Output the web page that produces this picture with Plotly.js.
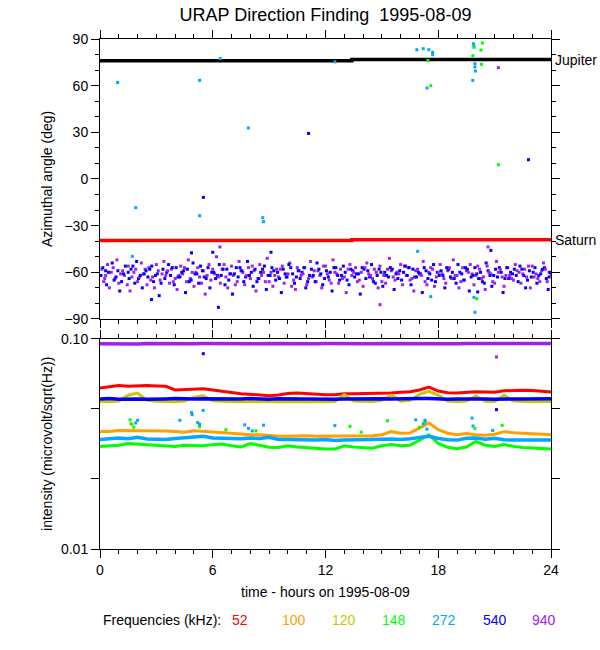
<!DOCTYPE html>
<html><head><meta charset="utf-8">
<script src="https://cdn.plot.ly/plotly-3.0.1.min.js"></script>
<style>html,body{margin:0;padding:0;background:#fff}#plot{width:600px;height:650px}</style>
</head><body><div id="plot"></div>
<script>
// ---------- data ----------
const freqLabels = ["52","100","120","148","272","540","940"];
const freqColors = ["#ff0000","#ffa000","#c8c800","#00ff00","#00a8ff","#0000ff","#a020f0"];

// reference source directions (deg)
const jupiterT = [0, 13.4, 13.4, 24];
const jupiterA = [76.0, 76.0, 76.8, 76.8];
const saturnT = [0, 13.4, 13.4, 24];
const saturnA = [-39.6, -39.6, -39.0, -39.0];

// azimuthal angle points, 940 kHz
const t940 = [0.1,0.2,0.3,0.4,0.5,0.6,0.8,0.9,1.0,1.2,1.3,1.5,1.6,1.7,1.9,2.0,2.2,2.3,2.5,2.6,2.8,2.9,3.1,3.2,3.4,3.5,3.7,3.8,4.0,4.1,4.3,4.4,4.6,4.7,4.9,5.0,5.2,5.3,5.5,5.6,5.8,5.9,6.1,6.2,6.4,6.5,6.7,6.8,7.0,7.1,7.3,7.4,7.6,7.7,7.9,8.0,8.2,8.3,8.5,8.6,8.8,8.9,9.1,9.2,9.4,9.5,9.7,9.8,10.0,10.1,10.3,10.4,10.6,10.7,10.9,11.0,11.2,11.3,11.5,11.6,11.8,11.9,12.1,12.2,12.4,12.5,12.7,12.8,13.0,13.1,13.3,13.4,13.6,13.7,13.9,14.0,14.2,14.3,14.5,14.6,14.8,14.9,15.1,15.2,15.4,15.5,15.7,15.8,16.0,16.1,16.3,16.4,16.6,16.7,16.9,17.0,17.2,17.3,17.5,17.6,17.8,17.9,18.1,18.2,18.4,18.5,18.7,18.8,19.0,19.1,19.3,19.4,19.6,19.7,19.9,20.0,20.2,20.3,20.5,20.6,20.8,20.9,21.1,21.2,21.4,21.5,21.7,21.8,22.0,22.1,22.3,22.4,22.6,22.7,22.9,23.0,23.2,23.3,23.5,23.6,23.8,23.9,6.38,20.65,14.9,21.2];
const a940 = [-58,-66,-62,-55,-70,-60,-64,-52,-67,-59,-62,-56,-72,-63,-58,-66,-54,-61,-68,-57,-63,-70,-59,-65,-53,-62,-67,-58,-64,-71,-56,-61,-66,-52,-60,-69,-57,-63,-59,-74,-55,-65,-61,-50,-67,-58,-63,-70,-56,-62,-66,-53,-60,-68,-57,-64,-59,-72,-55,-62,-66,-51,-60,-69,-58,-63,-56,-67,-61,-54,-65,-71,-59,-62,-57,-68,-53,-63,-66,-59,-70,-56,-61,-65,-52,-60,-67,-58,-63,-73,-55,-62,-57,-66,-60,-69,-54,-61,-64,-58,-70,-56,-62,-67,-51,-59,-65,-60,-55,-68,-62,-57,-64,-72,-58,-61,-53,-66,-60,-57,-69,-63,-55,-61,-67,-59,-64,-52,-62,-70,-57,-65,-60,-55,-68,-62,-58,-64,-71,-56,-61,-66,-53,-60,-63,-69,-57,-62,-65,-55,-60,-67,-58,-63,-70,-56,-61,-64,-59,-54,-66,-60,-43.7,-43.7,-80.8,71.6];
const t940b = [0.25,0.7,1.1,1.45,1.8,2.1,2.4,2.7,3.0,3.3,3.6,3.9,4.2,4.5,4.8,5.1,5.4,5.7,6.0,6.3,6.6,6.9,7.2,7.5,7.8,8.1,8.4,8.7,9.0,9.3,9.6,9.9,10.2,10.5,10.8,11.1,11.4,11.7,12.0,12.3,12.6,12.9,13.2,13.5,13.8,14.1,14.4,14.7,15.0,15.3,15.6,15.9,16.2,16.5,16.8,17.1,17.4,17.7,18.0,18.3,18.6,18.9,19.2,19.5,19.8,20.1,20.4,20.7,21.0,21.3,21.6,21.9,22.2,22.5,22.8,23.1,23.4,23.7,24.0];
const a940b = [-64,-57,-61,-68,-60,-63,-58,-65,-55,-61,-59,-66,-62,-57,-64,-60,-67,-62,-58,-63,-55,-61,-68,-59,-62,-56,-64,-60,-66,-62,-58,-63,-69,-57,-61,-64,-59,-62,-56,-67,-61,-64,-58,-60,-65,-57,-62,-60,-66,-58,-63,-61,-56,-65,-59,-62,-68,-58,-60,-64,-57,-62,-66,-59,-61,-56,-63,-60,-67,-58,-62,-64,-59,-61,-56,-63,-66,-58,-62];

// azimuthal angle points, 540 kHz
const t540 = [0.05,0.15,0.35,0.45,0.65,0.75,0.95,1.05,1.25,1.35,1.55,1.65,1.85,1.95,2.15,2.25,2.45,2.55,2.75,2.85,3.05,3.15,3.35,3.45,3.65,3.75,3.95,4.05,4.25,4.35,4.55,4.65,4.85,4.95,5.15,5.25,5.45,5.55,5.75,5.85,6.05,6.15,6.35,6.45,6.65,6.75,6.95,7.05,7.25,7.35,7.55,7.65,7.85,7.95,8.15,8.25,8.45,8.55,8.75,8.85,9.05,9.15,9.35,9.45,9.65,9.75,9.95,10.05,10.25,10.35,10.55,10.65,10.85,10.95,11.15,11.25,11.45,11.55,11.75,11.85,12.05,12.15,12.35,12.45,12.65,12.75,12.95,13.05,13.25,13.35,13.55,13.65,13.85,13.95,14.15,14.25,14.45,14.55,14.75,14.85,15.05,15.15,15.35,15.45,15.65,15.75,15.95,16.05,16.25,16.35,16.55,16.65,16.85,16.95,17.15,17.25,17.45,17.55,17.75,17.85,18.05,18.15,18.35,18.45,18.65,18.75,18.95,19.05,19.25,19.35,19.55,19.65,19.85,19.95,20.15,20.25,20.45,20.55,20.75,20.85,21.05,21.15,21.35,21.45,21.65,21.75,21.95,22.05,22.25,22.35,22.55,22.65,22.85,22.95,23.15,23.25,23.45,23.55,23.75,23.85,23.95,2.74,6.3,20.8,20.1,5.5,11.1,22.8,4.87,6.0,9.1];
const a540 = [-62,-57,-68,-60,-54,-65,-59,-72,-61,-56,-64,-58,-67,-53,-62,-70,-59,-63,-56,-66,-61,-75,-58,-64,-55,-62,-68,-57,-63,-60,-73,-58,-65,-54,-61,-67,-59,-63,-57,-70,-60,-64,-55,-62,-68,-58,-61,-74,-57,-63,-59,-66,-53,-62,-69,-58,-64,-60,-56,-71,-62,-57,-65,-60,-73,-58,-63,-55,-61,-67,-59,-64,-57,-70,-62,-58,-66,-54,-61,-68,-59,-63,-72,-57,-62,-65,-56,-60,-68,-58,-63,-61,-74,-57,-64,-59,-55,-66,-62,-58,-69,-60,-63,-57,-71,-61,-59,-65,-56,-62,-68,-58,-63,-60,-73,-57,-64,-61,-55,-66,-62,-59,-70,-57,-63,-60,-67,-55,-61,-65,-58,-72,-62,-57,-64,-60,-67,-54,-62,-69,-58,-63,-60,-73,-57,-64,-61,-58,-66,-56,-62,-70,-59,-63,-57,-67,-61,-58,-64,-71,-60,-77.5,-82.5,-45.9,-72.6,-11.8,29.3,12.4,-47.5,-47.1,-47.1];
const t540b = [0.3,0.85,1.15,1.5,1.75,2.05,2.35,2.65,2.95,3.25,3.55,3.85,4.15,4.45,4.75,5.05,5.35,5.65,5.95,6.25,6.55,6.85,7.15,7.45,7.75,8.05,8.35,8.65,8.95,9.25,9.55,9.85,10.15,10.45,10.75,11.05,11.35,11.65,11.95,12.25,12.55,12.85,13.15,13.45,13.75,14.05,14.35,14.65,14.95,15.25,15.55,15.85,16.15,16.45,16.75,17.05,17.35,17.65,17.95,18.25,18.55,18.85,19.15,19.45,19.75,20.05,20.35,20.65,20.95,21.25,21.55,21.85,22.15,22.45,22.75,23.05,23.35,23.65,23.9];
const a540b = [-59,-63,-66,-60,-56,-64,-61,-58,-62,-67,-60,-57,-63,-59,-66,-61,-56,-64,-60,-62,-58,-65,-61,-57,-63,-60,-66,-58,-62,-59,-64,-61,-57,-63,-60,-66,-62,-58,-64,-60,-57,-62,-65,-59,-61,-58,-63,-67,-60,-62,-58,-64,-60,-57,-63,-61,-59,-65,-60,-62,-58,-64,-60,-57,-63,-61,-66,-59,-62,-57,-64,-60,-62,-58,-65,-60,-62,-57,-63];

// azimuthal angle points, 272 kHz
const t272 = [0.94,5.3,6.4,7.9,12.5,16.86,17.2,17.5,17.7,17.7,17.4,19.87,19.9,19.95,19.95,19.98,19.84,1.9,5.3,8.66,8.7,19.95,19.9,17.6,1.72,16.9];
const a272 = [62.0,63.4,77.4,32.8,75.3,83.1,83.8,83.1,81.4,79.9,58.5,87.0,85.5,74.1,72.0,69.4,63.4,-18.4,-23.6,-24.9,-27.4,-85.7,-76.1,-75.6,-49.7,-46.5];

// azimuthal angle points, 148 kHz
const t148 = [17.45,17.6,20.35,19.9,20.27,19.84,20.3,21.2,20.05];
const a148 = [76.2,60.0,87.4,84.6,82.9,79.3,73.7,9.2,-76.9];

// intensity (microvolt/sqrt(Hz)) at half-hour steps
const hours = [0,0.5,1,1.5,2,2.5,3,3.5,4,4.5,5,5.5,6,6.5,7,7.5,8,8.5,9,9.5,10,10.5,11,11.5,12,12.5,13,13.5,14,14.5,15,15.5,16,16.5,17,17.5,18,18.5,19,19.5,20,20.5,21,21.5,22,22.5,23,23.5,24];
const i52 = [0.0584,0.0590,0.0600,0.0595,0.0598,0.0600,0.0598,0.0595,0.0572,0.0574,0.0578,0.0580,0.0572,0.0562,0.0556,0.0549,0.0545,0.0541,0.0537,0.0541,0.0550,0.0553,0.0549,0.0547,0.0543,0.0543,0.0549,0.0549,0.0550,0.0549,0.0549,0.0553,0.0557,0.0561,0.0572,0.0590,0.0565,0.0555,0.0553,0.0557,0.0560,0.0559,0.0557,0.0567,0.0570,0.0570,0.0568,0.0565,0.0559];
const i100 = [0.0363,0.0363,0.0367,0.0367,0.0365,0.0367,0.0366,0.0365,0.0363,0.0360,0.0366,0.0364,0.0362,0.0360,0.0356,0.0353,0.0350,0.0350,0.0347,0.0344,0.0344,0.0345,0.0346,0.0344,0.0344,0.0344,0.0346,0.0346,0.0346,0.0346,0.0350,0.0362,0.0356,0.0357,0.0376,0.0398,0.0370,0.0356,0.0350,0.0355,0.0350,0.0348,0.0352,0.0362,0.0358,0.0356,0.0356,0.0354,0.0350];
const i120 = [0.0505,0.0503,0.0506,0.0540,0.0553,0.0510,0.0505,0.0503,0.0502,0.0506,0.0528,0.0537,0.0508,0.0505,0.0503,0.0502,0.0504,0.0502,0.0503,0.0502,0.0504,0.0503,0.0502,0.0503,0.0502,0.0504,0.0543,0.0506,0.0503,0.0504,0.0510,0.0540,0.0506,0.0510,0.0545,0.0563,0.0540,0.0506,0.0504,0.0506,0.0535,0.0505,0.0504,0.0540,0.0506,0.0504,0.0503,0.0505,0.0504];
const i148 = [0.0308,0.0310,0.0312,0.0318,0.0316,0.0312,0.0310,0.0309,0.0308,0.0312,0.0311,0.0310,0.0314,0.0316,0.0310,0.0306,0.0318,0.0312,0.0305,0.0304,0.0310,0.0306,0.0303,0.0301,0.0299,0.0299,0.0310,0.0306,0.0303,0.0302,0.0310,0.0314,0.0310,0.0312,0.0330,0.0350,0.0318,0.0305,0.0300,0.0306,0.0325,0.0312,0.0308,0.0314,0.0308,0.0304,0.0303,0.0301,0.0299];
const i272 = [0.0332,0.0336,0.0338,0.0335,0.0340,0.0334,0.0333,0.0332,0.0336,0.0338,0.0340,0.0344,0.0338,0.0336,0.0334,0.0335,0.0338,0.0336,0.0340,0.0332,0.0332,0.0331,0.0332,0.0330,0.0332,0.0329,0.0330,0.0330,0.0332,0.0332,0.0333,0.0334,0.0332,0.0335,0.0340,0.0344,0.0336,0.0331,0.0330,0.0337,0.0338,0.0333,0.0337,0.0331,0.0330,0.0330,0.0331,0.0330,0.0330];
const i540 = [0.0518,0.0520,0.0517,0.0519,0.0518,0.0516,0.0519,0.0518,0.0520,0.0517,0.0518,0.0519,0.0518,0.0517,0.0519,0.0518,0.0520,0.0518,0.0517,0.0519,0.0518,0.0517,0.0518,0.0519,0.0518,0.0517,0.0518,0.0519,0.0518,0.0517,0.0519,0.0518,0.0517,0.0518,0.0520,0.0521,0.0518,0.0517,0.0518,0.0519,0.0520,0.0518,0.0517,0.0519,0.0518,0.0518,0.0517,0.0518,0.0519];
const i940 = [0.0950,0.0948,0.0952,0.0950,0.0947,0.0951,0.0949,0.0950,0.0953,0.0948,0.0950,0.0951,0.0949,0.0947,0.0950,0.0952,0.0950,0.0948,0.0951,0.0949,0.0950,0.0952,0.0948,0.0950,0.0951,0.0949,0.0950,0.0952,0.0950,0.0948,0.0951,0.0950,0.0949,0.0952,0.0950,0.0951,0.0953,0.0950,0.0949,0.0951,0.0950,0.0952,0.0949,0.0950,0.0951,0.0950,0.0949,0.0951,0.0952];

// isolated intensity spikes
const s272T = [1.9,2.0,4.25,4.87,4.9,5.2,5.3,5.49,7.7,7.9,8.1,8.7,12.5,16.8,17.2,17.3,17.4,19.8,19.85,20.9];
const s272V = [0.0398,0.0410,0.0410,0.0446,0.0436,0.0400,0.0392,0.0457,0.0390,0.0375,0.0365,0.0389,0.0387,0.0412,0.0395,0.0410,0.0372,0.0420,0.0385,0.0367];
const s148T = [1.6,1.65,1.8,5.3,6.7,8.3,13.3,13.9,15.3,17.0,17.3,19.95,21.4];
const s148V = [0.0412,0.0395,0.0380,0.0382,0.0370,0.0365,0.0384,0.0360,0.0408,0.0380,0.0400,0.0375,0.0388];
const s100T = [1.7,17.3];
const s100V = [0.0392,0.0405];
const s540T = [5.5,21.1];
const s540V = [0.0851,0.0461];
const s940T = [21.1];
const s940V = [0.0821];

// tick labels
const xTickVals = [0,6,12,18,24];
const yTopTickVals = [-90,-60,-30,0,30,60,90];
const yBotTickVals = [0.01,0.021544,0.046416,0.1];
const yBotTickText = ["0.01","","","0.10"];

// ---------- figure ----------
const C = {}; freqLabels.forEach((f,i)=>C[f]=freqColors[i]);
const pts = (x,y,col,xa,ya,sz)=>({x,y,type:'scatter',mode:'markers',xaxis:xa,yaxis:ya,
  marker:{symbol:'square',size:sz||3,color:col,line:{width:0}},hoverinfo:'skip',cliponaxis:true});
const ln = (x,y,col,w)=>({x,y,type:'scatter',mode:'lines',xaxis:'x2',yaxis:'y2',
  line:{color:col,width:w||3},hoverinfo:'skip'});

const traces = [
  {x:jupiterT,y:jupiterA,type:'scatter',mode:'lines',xaxis:'x',yaxis:'y',line:{color:'#000',width:3.5},hoverinfo:'skip'},
  {x:saturnT,y:saturnA,type:'scatter',mode:'lines',xaxis:'x',yaxis:'y',line:{color:'#ff0000',width:3.5},hoverinfo:'skip'},
  pts(t940,a940,C['940'],'x','y'),
  pts(t540b,a540b,C['540'],'x','y'),
  pts(t940b,a940b,C['940'],'x','y'),
  pts(t540,a540,C['540'],'x','y'),
  pts(t272,a272,C['272'],'x','y'),
  pts(t148,a148,C['148'],'x','y'),
  ln(hours,i940,C['940'],3.5),
  ln(hours,i52,C['52'],3),
  ln(hours,i100,C['100'],3),
  ln(hours,i120,C['120'],3),
  ln(hours,i148,C['148'],3),
  ln(hours,i272,C['272'],3.5),
  ln(hours,i540,C['540'],3.5),
  pts(s100T,s100V,C['100'],'x2','y2',3),
  pts(s148T,s148V,C['148'],'x2','y2',3),
  pts(s272T,s272V,C['272'],'x2','y2',3),
  pts(s540T,s540V,C['540'],'x2','y2',3),
  pts(s940T,s940V,C['940'],'x2','y2',3)
];

const FONT = 'Liberation Sans, Arial, Helvetica, sans-serif';
const axBase = {showline:true,linecolor:'#000',linewidth:1,mirror:'allticks',ticks:'outside',
  tickcolor:'#000',tickwidth:1,ticklen:8,showgrid:false,zeroline:false,
  tickfont:{family:FONT,size:14,color:'#000'}};

const annotations = [
  {text:'Jupiter',xref:'paper',yref:'y',x:1,y:76.8,xanchor:'left',yanchor:'middle',xshift:2,showarrow:false,font:{family:FONT,size:14,color:'#000'}},
  {text:'Saturn',xref:'paper',yref:'y',x:1,y:-39.2,xanchor:'left',yanchor:'middle',xshift:2,showarrow:false,font:{family:FONT,size:14,color:'#000'}},
  {text:'Azimuthal angle (deg)',xref:'paper',yref:'paper',x:-0.1175,y:0.7255,textangle:-90,xanchor:'center',yanchor:'middle',showarrow:false,font:{family:FONT,size:14,color:'#000'}},
  {text:'intensity (microvolt/sqrt(Hz))',xref:'paper',yref:'paper',x:-0.1175,y:0.206,textangle:-90,xanchor:'center',yanchor:'middle',showarrow:false,font:{family:FONT,size:14,color:'#000'}},
  {text:'time - hours on 1995-08-09',xref:'paper',yref:'paper',x:0.5,y:-0.084,xanchor:'center',yanchor:'middle',showarrow:false,font:{family:FONT,size:14,color:'#000'}},
  {text:'Frequencies (kHz):',xref:'paper',yref:'paper',x:(101-100)/451,y:-(620-549)/510,xanchor:'left',yanchor:'middle',showarrow:false,font:{family:FONT,size:14,color:'#000'}}
];
const legX = [240,293.5,343.5,394,444,495,544];
freqLabels.forEach((f,i)=>annotations.push({text:f,xref:'paper',yref:'paper',x:(legX[i]-100)/451,y:-(620-549)/510,
  xanchor:'center',yanchor:'middle',showarrow:false,font:{family:FONT,size:14,color:freqColors[i]}}));

const layout = {
  width:600,height:650,paper_bgcolor:'#fff',plot_bgcolor:'#fff',showlegend:false,
  margin:{l:100,r:49,t:39,b:101,pad:0},
  title:{text:'URAP Direction Finding  1995-08-09',x:0.5,xref:'paper',y:1-15/650,yref:'container',yanchor:'middle',
    font:{family:FONT,size:18,color:'#000'}},
  xaxis:Object.assign({},axBase,{domain:[0,1],anchor:'y',range:[0,24],tickvals:xTickVals,showticklabels:false,
    minor:{dtick:1,ticklen:4,ticks:'outside',tickcolor:'#000'}}),
  yaxis:Object.assign({},axBase,{domain:[0.451,1],anchor:'x',range:[-90,90],tickvals:yTopTickVals,
    minor:{dtick:10,ticklen:4,ticks:'outside',tickcolor:'#000'}}),
  xaxis2:Object.assign({},axBase,{domain:[0,1],anchor:'y2',range:[0,24],tickvals:xTickVals,
    minor:{dtick:1,ticklen:4,ticks:'outside',tickcolor:'#000'}}),
  yaxis2:Object.assign({},axBase,{domain:[0,0.4118],anchor:'x2',type:'log',range:[-2,-1],
    tickvals:yBotTickVals,ticktext:yBotTickText}),
  annotations
};
Plotly.newPlot('plot',traces,layout,{staticPlot:true,displayModeBar:false});
</script></body></html>
